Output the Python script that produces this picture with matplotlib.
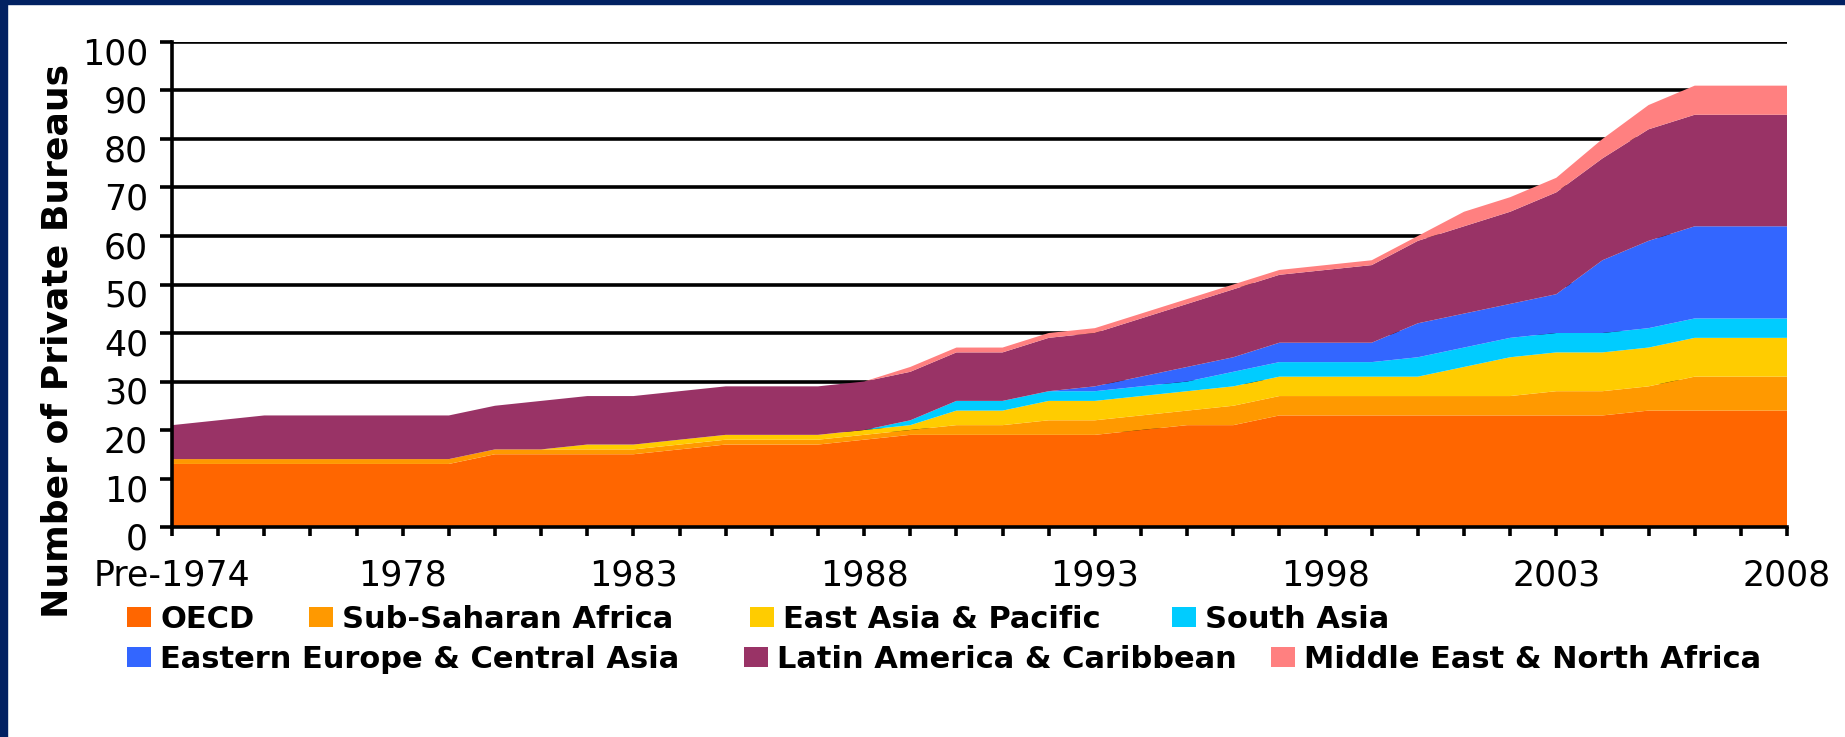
import numpy as np
import matplotlib
matplotlib.use("Agg")
import matplotlib.pyplot as plt
from matplotlib.patches import Rectangle
from matplotlib.transforms import ScaledTranslation

categories = ["Pre-1974"] + [str(y) for y in range(1974, 2009)]

regions = [
    "OECD", "Sub-Saharan Africa", "East Asia & Pacific", "South Asia",
    "Eastern Europe & Central Asia", "Latin America & Caribbean",
    "Middle East & North Africa",
]
colors = ["#FF6600", "#FF9900", "#FFCC00", "#00CCFF", "#3366FF", "#993366", "#FF8080"]

oecd = [13, 13, 13, 13, 13, 13, 13, 15, 15, 15, 15, 16, 17, 17, 17, 18, 19, 19,
        19, 19, 19, 20, 21, 21, 23, 23, 23, 23, 23, 23, 23, 23, 24, 24, 24, 24]
ssa = [1, 1, 1, 1, 1, 1, 1, 1, 1, 1, 1, 1, 1, 1, 1, 1, 1, 2,
       2, 3, 3, 3, 3, 4, 4, 4, 4, 4, 4, 4, 5, 5, 5, 7, 7, 7]
eap = [0, 0, 0, 0, 0, 0, 0, 0, 0, 1, 1, 1, 1, 1, 1, 1, 1, 3,
       3, 4, 4, 4, 4, 4, 4, 4, 4, 4, 6, 8, 8, 8, 8, 8, 8, 8]
sa = [0, 0, 0, 0, 0, 0, 0, 0, 0, 0, 0, 0, 0, 0, 0, 0, 1, 2,
      2, 2, 2, 2, 2, 3, 3, 3, 3, 4, 4, 4, 4, 4, 4, 4, 4, 4]
eeca = [0, 0, 0, 0, 0, 0, 0, 0, 0, 0, 0, 0, 0, 0, 0, 0, 0, 0,
        0, 0, 1, 2, 3, 3, 4, 4, 4, 7, 7, 7, 8, 15, 18, 19, 19, 19]
lac = [7, 8, 9, 9, 9, 9, 9, 9, 10, 10, 10, 10, 10, 10, 10, 10, 10, 10,
       10, 11, 11, 12, 13, 14, 14, 15, 16, 17, 18, 19, 21, 21, 23, 23, 23, 23]
mena = [0, 0, 0, 0, 0, 0, 0, 0, 0, 0, 0, 0, 0, 0, 0, 0, 1, 1,
        1, 1, 1, 1, 1, 1, 1, 1, 1, 1, 3, 3, 3, 4, 5, 6, 6, 6]

W, H = 1845, 737


def main():
    fig = plt.figure(figsize=(W / 100, H / 100), dpi=100)
    fig.patch.set_facecolor("white")

    # navy frame on the left and top edges
    navy = "#022162"
    fig.add_artist(Rectangle((0, 0), 7 / W, 1, transform=fig.transFigure,
                             color=navy, zorder=0))
    fig.add_artist(Rectangle((0, 1 - 4 / H), 1, 4 / H, transform=fig.transFigure,
                             color=navy, zorder=0))

    left, right, top, bottom = 172, 1787, 42, 527
    ax = fig.add_axes([left / W, 1 - bottom / H, (right - left) / W, (bottom - top) / H])

    x = np.arange(len(categories))
    polys = ax.stackplot(x, oecd, ssa, eap, sa, eeca, lac, mena,
                         labels=regions, colors=colors, linewidth=0, zorder=2)

    ax.set_xlim(0, len(categories) - 1)
    ax.set_ylim(0, 100)
    ax.set_yticks(range(0, 101, 10))
    ax.set_xticks(x)
    ax.set_xticklabels([c if i % 5 == 0 else "" for i, c in enumerate(categories)])

    lw = 2.6
    for yv in range(10, 101, 10):
        ax.axhline(yv, color="black", linewidth=lw, zorder=1)

    for side in ["top", "right"]:
        ax.spines[side].set_visible(False)
    for side in ["left", "bottom"]:
        ax.spines[side].set_linewidth(lw)
        ax.spines[side].set_zorder(3)

    ax.tick_params(axis="y", direction="out", length=8.6, width=lw,
                   labelsize=25, pad=8.6)
    ax.tick_params(axis="x", direction="out", length=6.5, width=lw,
                   labelsize=25, pad=16)

    shift = ScaledTranslation(0, -9 / 100, fig.dpi_scale_trans)
    for lab in ax.get_yticklabels():
        lab.set_transform(lab.get_transform() + shift)

    fig.text(58 / W, 1 - 341 / H, "Number of Private Bureaus", rotation=90,
             ha="center", va="center", fontsize=26, fontweight="bold")

    # legend entries laid out like the original (two flowing rows)
    slots = [(127, 619), (309, 619), (750, 619), (1172, 619),
             (127, 659), (744, 659), (1271, 659)]
    fs = 22
    fs_px = fs * 100 / 72
    for poly, name, (lx, ly) in zip(polys, regions, slots):
        fig.legend([poly], [name], loc="center left",
                   bbox_to_anchor=(lx / W, 1 - ly / H),
                   frameon=False, borderpad=0, borderaxespad=0,
                   handlelength=24 / fs_px, handleheight=20 / fs_px,
                   handletextpad=9 / fs_px,
                   prop={"size": fs, "weight": "bold"})

    fig.savefig("out.png", dpi=100, facecolor="white")


if __name__ == "__main__":
    main()
